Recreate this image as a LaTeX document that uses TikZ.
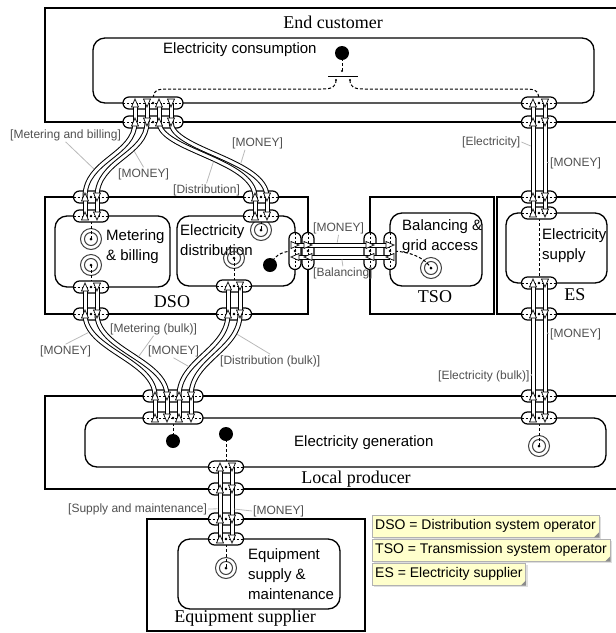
\documentclass[tikz,border=0pt]{standalone}
\usepackage{fontspec}
\setmainfont{Liberation Serif}
\setsansfont{Liberation Sans}
\usetikzlibrary{shadows}
\definecolor{notefill}{RGB}{255,255,204}
\definecolor{lblgray}{RGB}{80,80,80}
\definecolor{leadgray}{RGB}{185,185,185}
\tikzset{
    actor/.style={
           draw=black, line width=1.3pt
           },
    activity/.style={
           draw=black, line width=1.3pt,
           rounded corners=12pt
           },
    actorname/.style={
           font=\fontsize{18}{20}\selectfont
           },
    actname/.style={
           font=\sffamily\fontsize{15}{20}\selectfont,
           align=left, inner sep=0pt
           },
    pill/.style={
           draw=black, fill=white, line width=1.2pt,
           rounded corners=6pt, minimum height=12pt, inner sep=0pt,
           path picture={\draw[line width=0.6pt, dash pattern=on 2pt off 2pt]
              (path picture bounding box.west) -- (path picture bounding box.east);}
           },
    vpill/.style={
           draw=black, fill=white, line width=1.2pt,
           rounded corners=6pt, minimum width=12pt, minimum height=37pt, inner sep=0pt,
           path picture={\draw[line width=0.6pt, dash pattern=on 2pt off 2pt]
              (path picture bounding box.north) -- (path picture bounding box.south);}
           },
    xchg/.style={
           draw=black, line width=1pt,
           double=white, double distance=3pt
           },
    dep/.style={
           line width=1pt, dash pattern=on 3pt off 2pt
           },
    startst/.style={
           circle, fill=black, minimum size=14pt, inner sep=0pt
           },
    endst/.style={
           circle, draw=black!75, line width=1pt,
           minimum size=21pt, inner sep=0pt
           },
    flowlbl/.style={
           font=\sffamily\fontsize{12}{14}\selectfont, text=lblgray,
           inner sep=1pt, anchor=west
           },
    leader/.style={
           draw=leadgray, line width=0.8pt, shorten >=2.5pt
           },
    note/.style={
           draw=black!30, fill=notefill, anchor=north west,
           font=\sffamily\fontsize{14}{16}\selectfont,
           inner sep=3pt, minimum height=22pt,
           drop shadow={shadow xshift=2pt, shadow yshift=-2pt, fill=black!25}
           },
    pup/.pic={\draw[fill=white, line width=0.7pt] (-3.5,4) -- (3.5,4) -- (0,-4) -- cycle;},
    pdn/.pic={\draw[fill=white, line width=0.7pt] (-3.5,-4) -- (3.5,-4) -- (0,4) -- cycle;},
    prt/.pic={\draw[fill=white, line width=0.7pt] (-4,-3.5) -- (-4,3.5) -- (4,0) -- cycle;},
    plt/.pic={\draw[fill=white, line width=0.7pt] (4,-3.5) -- (4,3.5) -- (-4,0) -- cycle;}
}

\begin{document}
\begin{tikzpicture}[x=1pt, y=-1pt]
\useasboundingbox (0,0) rectangle (616,633);
\clip (0,0) rectangle (616,633);

% actors
\draw[actor] (45,8) rectangle (640,122);
\draw[actor] (45,197) rectangle (308,314);
\draw[actor] (370,197) rectangle (494,314);
\draw[actor] (497,197) rectangle (640,314);
\draw[actor] (45,396) rectangle (640,489);
\draw[actor] (147,519) rectangle (365,631);

% activities
\draw[activity] (93,38) rectangle (594,103);
\draw[activity] (55,216) rectangle (170,287);
\draw[activity] (177,216) rectangle (295,286);
\draw[activity] (390,213) rectangle (482,286);
\draw[activity] (506,213) rectangle (607,283);
\draw[activity] (85,418) rectangle (606,467);
\draw[activity] (178,539) rectangle (340,609);

\node[actorname] (ecName) at (333,22) {End customer};
\node[actorname] (dsoName) at (172,302) {DSO};
\node[actorname] (tsoName) at (435,297) {TSO};
\node[actorname] (esName) at (575,295) {ES};
\node[actorname] (lpName) at (356,479) {Local producer};
\node[actorname] (eqName) at (245,618) {Equipment supplier};

\node[actname, anchor=west] (consName) at (163,50) {Electricity consumption};
\node[actname, anchor=west] (mbName) at (106,247) {Metering\\\& billing};
\node[actname, anchor=west] (distName) at (180,240) {Electricity\\distribution};
\node[actname, anchor=west] (balName) at (402,237) {Balancing \&\\grid access};
\node[actname, anchor=west] (supName) at (542,246) {Electricity\\supply};
\node[actname, anchor=west] (genName) at (294,443) {Electricity generation};
\node[actname, anchor=west] (eqpName) at (248,574) {Equipment\\supply \&\\maintenance};

% stimuli
\node[startst] (consStart) at (342,53) {};
\node[startst] (dStart) at (270,265) {};
\node[startst] (gStart1) at (173,441) {};
\node[startst] (gStart2) at (226,434) {};
\foreach \n/\x/\y in {mEnd1/91/239, mEnd2/91/265, dEnd1/261/230, dEnd2/234/258,
                      bEnd/431/268, gEnd/539/446, qEnd/226/568}
   \node[endst] (\n) at (\x,\y) {};
\foreach \n in {mEnd1,mEnd2,dEnd1,dEnd2,bEnd,gEnd,qEnd}
   \draw[black!75, line width=1pt] (\n.center) circle (6.5);

\coordinate (barL) at (328,76);
\coordinate (barR) at (358,76);
\coordinate (barT) at (342,71);
\coordinate (barDL) at (336,80);
\coordinate (barDR) at (350,80);
\draw[line width=0.8pt] (barL) -- (barR);

% pill centres
\foreach \n/\x/\y/\w in {ecLu/153/103/60, ecLl/153/122/60, ecRu/539/103/35, ecRl/539/122/35,
    dMt/91/197/35, dMa/91/216/35, dMba/91/287/35, dMbo/91/314/35,
    dDt/261/197/35, dDa/261/216/35, dDba/234/286/35, dDbo/234/314/35,
    esT/539/197/35, esTa/539/213/35, esBa/539/283/35, esB/539/314/35,
    lpL/173/396/60, lpLa/173/418/60, lpR/539/396/35, lpRa/539/418/35,
    lpBa/226/467/35, lpB/226/489/35, eqT/226/519/35, eqTa/226/539/35}
   \coordinate (\n) at (\x,\y);

% dependency paths
\draw[dep] (consStart.center) -- (barT);
\draw[dep] (barDL) .. controls +(0,7) and +(10,0) .. (322,89) -- (167,89)
     .. controls +(-12,0) and +(0,-12) .. (ecLu);
\draw[dep] (barDR) .. controls +(0,7) and +(-10,0) .. (364,89) -- (525,89)
     .. controls +(12,0) and +(0,-12) .. (ecRu);
\draw[dep] (dMa) -- (mEnd1.center);
\draw[dep] (mEnd2.center) -- (dMba);
\draw[dep] (dDa) -- (dEnd1.center);
\draw[dep] (dEnd2.center) -- (dDba);
\draw[dep] (dStart.center) .. controls +(6,-12) and +(-10,0) .. (295,251);
\draw[dep] (390,251) .. controls +(20,0) and +(-6,-10) .. (bEnd.center);
\draw[dep] (esTa) -- (esBa);
\draw[dep] (lpLa) -- (gStart1.center);
\draw[dep] (gStart2.center) -- (lpBa);
\draw[dep] (lpRa) -- (gEnd.center);
\draw[dep] (eqTa) -- (qEnd.center);
\foreach \n in {mEnd1,mEnd2,dEnd1,dEnd2,bEnd,gEnd,qEnd}
   \fill (\n.center) circle (1.5);
\foreach \c in {barT,barDL,barDR}
   \fill (\c) circle (1.2);

\foreach \n/\x/\y/\w in {ecLu/153/103/60, ecLl/153/122/60, ecRu/539/103/35, ecRl/539/122/35,
    dMt/91/197/35, dMa/91/216/35, dMba/91/287/35, dMbo/91/314/35,
    dDt/261/197/35, dDa/261/216/35, dDba/234/286/35, dDbo/234/314/35,
    esT/539/197/35, esTa/539/213/35, esBa/539/283/35, esB/539/314/35,
    lpL/173/396/60, lpLa/173/418/60, lpR/539/396/35, lpRa/539/418/35,
    lpBa/226/467/35, lpB/226/489/35, eqT/226/519/35, eqTa/226/539/35}
   \node[pill, minimum width=\w pt] (p\n) at (\x,\y) {};
\foreach \n/\x in {dRa/295, dRo/308, tLo/370, tLa/390}
   \node[vpill] (p\n) at (\x,251) {};
\foreach \n in {ecLu,ecLl,ecRu,ecRl,dMt,dMa,dMba,dMbo,dDt,dDa,dDba,dDbo,esT,esTa,esBa,esB,
                lpL,lpLa,lpR,lpRa,lpBa,lpB,eqT,eqTa,dRa,dRo,tLo,tLa}
   \fill (p\n.center) circle (1.4);

% ports
\foreach \p/\x/\y in {eu1/135/103, eu2/147/103, eu3/159/103, eu4/171/103,
    el1/135/122, el2/147/122, el3/159/122, el4/171/122,
    eru1/533/103, eru2/545/103, erl1/533/122, erl2/545/122,
    mt1/85/197, mt2/97/197, ma1/85/216, ma2/97/216,
    mba1/85/287, mba2/97/287, mbo1/85/314, mbo2/97/314,
    dt1/255/197, dt2/267/197, da1/255/216, da2/267/216,
    dba1/228/286, dba2/240/286, dbo1/228/314, dbo2/240/314,
    ra1/295/245, ra2/295/257, ro1/308/245, ro2/308/257,
    to1/370/245, to2/370/257, ta1/390/245, ta2/390/257,
    st1/533/197, st2/545/197, sa1/533/213, sa2/545/213,
    sba1/533/283, sba2/545/283, sbo1/533/314, sbo2/545/314,
    lo1/155/396, lo2/167/396, lo3/179/396, lo4/191/396,
    la1/155/418, la2/167/418, la3/179/418, la4/191/418,
    lro1/533/396, lro2/545/396, lra1/533/418, lra2/545/418,
    lba1/220/467, lba2/232/467, lbo1/220/489, lbo2/232/489,
    qo1/220/519, qo2/232/519, qa1/220/539, qa2/232/539}
   \coordinate (\p) at (\x,\y);

% value exchanges
\foreach \a/\b in {eu1/el1, eu2/el2, eu3/el3, eu4/el4, mt1/ma1, mt2/ma2,
    mba1/mbo1, mba2/mbo2, dt1/da1, dt2/da2, dba1/dbo1, dba2/dbo2,
    lo1/la1, lo2/la2, lo3/la3, lo4/la4}
   \draw[xchg] (\a) -- (\b);
\draw[xchg] (eru1) -- (sa1) coordinate[pos=0.4] (x7);
\draw[xchg] (eru2) -- (sa2) coordinate[pos=0.53] (x8);
\draw[xchg] (sba1) -- (lra1) coordinate[pos=0.66] (x14);
\draw[xchg] (sba2) -- (lra2) coordinate[pos=0.36] (x13);
\draw[xchg] (lba1) -- (qa1) coordinate[pos=0.58] (x15);
\draw[xchg] (lba2) -- (qa2) coordinate[pos=0.58] (x16);
\draw[xchg] (ra1) -- (ta1) coordinate[pos=0.44] (x5);
\draw[xchg] (ra2) -- (ta2) coordinate[pos=0.49] (x6);
\draw[xchg] (el1) .. controls +(0,33) and +(0,-37) .. (mt1) coordinate[pos=0.7] (x1);
\draw[xchg] (el2) .. controls +(0,33) and +(0,-37) .. (mt2) coordinate[pos=0.35] (x2);
\draw[xchg] (el3) .. controls +(0,28) and +(0,-37) .. (dt1) coordinate[pos=0.55] (x3);
\draw[xchg] (el4) .. controls +(0,28) and +(0,-37) .. (dt2) coordinate[pos=0.65] (x4);
\draw[xchg] (mbo1) .. controls +(0,36) and +(0,-36) .. (lo1) coordinate[pos=0.18] (x10);
\draw[xchg] (mbo2) .. controls +(0,36) and +(0,-36) .. (lo2) coordinate[pos=0.55] (x9);
\draw[xchg] (dbo1) .. controls +(0,36) and +(0,-36) .. (lo3) coordinate[pos=0.68] (x11);
\draw[xchg] (dbo2) .. controls +(0,36) and +(0,-36) .. (lo4) coordinate[pos=0.2] (x12);

\foreach \p in {eu1,eu3,el1,el3,eru1,erl1,mt1,ma1,mba1,mbo1,dt1,da1,dba1,dbo1,
                st1,sa1,sba1,sbo1,lo1,lo3,la1,la3,lro1,lra1,lba1,lbo1,qo1,qa1}
   \pic at (\p) {pup};
\foreach \p in {eu2,eu4,el2,el4,eru2,erl2,mt2,ma2,mba2,mbo2,dt2,da2,dba2,dbo2,
                st2,sa2,sba2,sbo2,lo2,lo4,la2,la4,lro2,lra2,lba2,lbo2,qo2,qa2}
   \pic at (\p) {pdn};
\foreach \p in {ra1,ro1,to1,ta1} \pic at (\p) {prt};
\foreach \p in {ra2,ro2,to2,ta2} \pic at (\p) {plt};

% exchange labels
\node[flowlbl] (lblMB) at (9,135) {[Metering and billing]};
\node[flowlbl] (lblM1) at (117,174) {[MONEY]};
\node[flowlbl] (lblD) at (172,190) {[Distribution]};
\node[flowlbl] (lblM2) at (231,143) {[MONEY]};
\node[flowlbl] (lblM3) at (312,228) {[MONEY]};
\node[flowlbl] (lblB) at (312,273) {[Balancing]};
\node[flowlbl] (lblE) at (461,142) {[Electricity]};
\node[flowlbl] (lblM4) at (549,163) {[MONEY]};
\node[flowlbl] (lblMB2) at (109,329) {[Metering (bulk)]};
\node[flowlbl] (lblM5) at (39,351) {[MONEY]};
\node[flowlbl] (lblM6) at (147,351) {[MONEY]};
\node[flowlbl] (lblDB) at (219,361) {[Distribution (bulk)]};
\node[flowlbl] (lblM7) at (549,334) {[MONEY]};
\node[flowlbl] (lblEB) at (437,376) {[Electricity (bulk)]};
\node[flowlbl] (lblSM) at (67,509) {[Supply and maintenance]};
\node[flowlbl] (lblM8) at (252,511) {[MONEY]};

\draw[leader] (lblMB.south) -- (x1);
\draw[leader] (lblM1.north) -- (x2);
\draw[leader] (lblD.north) -- (x3);
\draw[leader] ([xshift=14pt]lblM2.south west) -- (x4);
\draw[leader] (lblM3.south) -- (x5);
\draw[leader] (lblB.north) -- (x6);
\draw[leader] (lblE.east) -- (x7);
\draw[leader] (lblM4.west) -- (x8);
\draw[leader] (lblMB2.south) -- (x9);
\draw[leader] (lblM5.north) -- (x10);
\draw[leader] (lblM6.south) -- (x11);
\draw[leader] (lblDB.north) -- (x12);
\draw[leader] (lblM7.west) -- (x13);
\draw[leader] (lblEB.east) -- (x14);
\draw[leader] (lblSM.east) -- (x15);
\draw[leader] (lblM8.west) -- (x16);

% legend notes
\node[note] (n1) at (372,515) {DSO = Distribution system operator};
\node[note] (n2) at (372,539) {TSO = Transmission system operator};
\node[note] (n3) at (372,563) {ES = Electricity supplier};
\foreach \n in {n1,n2,n3}
   \fill[black!45] ([xshift=-5pt]\n.south east) -- (\n.south east) -- ([yshift=5pt]\n.south east) -- cycle;
\end{tikzpicture}
\end{document}
